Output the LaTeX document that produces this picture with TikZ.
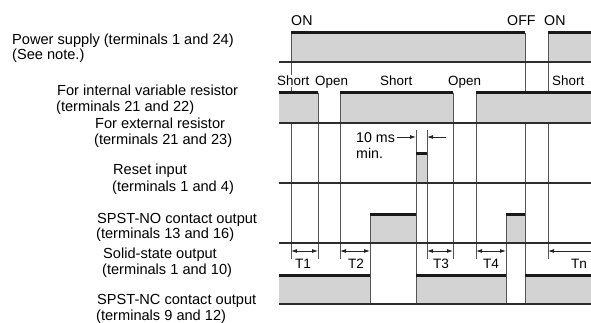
\documentclass[tikz,border=0pt]{standalone}
\usepackage{fontspec}
\setmainfont{Liberation Sans}
\usetikzlibrary{arrows.meta}
\definecolor{wfill}{RGB}{211,211,211}
\definecolor{vlc}{RGB}{85,85,85}
\definecolor{blc}{RGB}{45,45,45}
\begin{document}
\begin{tikzpicture}[x=1pt,y=-1pt,
  lbl/.style={anchor=base west, inner sep=0pt, font=\fontsize{14.6}{16}\selectfont},
  stlbl/.style={anchor=base west, inner sep=1pt, fill=white, font=\fontsize{13.4}{15}\selectfont},
  tlbl/.style={anchor=base, inner sep=0pt, font=\fontsize{13.6}{15}\selectfont},
  wavefill/.style={fill=wfill},
  vln/.style={draw=vlc, line width=0.9pt},
  topline/.style={draw=black!90, line width=3pt},
  baseln/.style={draw=blc, line width=1.4pt},
  dimarrow/.style={draw=black!85, line width=0.8pt, -{Latex[length=6pt,width=4pt]}},
  dimboth/.style={draw=black!85, line width=0.8pt, {Latex[length=6pt,width=4pt]}-{Latex[length=6pt,width=4pt]}},
]
\useasboundingbox (0,0) rectangle (591,323);

% ---- fills ----
\fill[wavefill] (291,33) rectangle (525,62);
\fill[wavefill] (548,33) rectangle (591,62);
\fill[wavefill] (279,93) rectangle (318,123);
\fill[wavefill] (340,93) rectangle (453,123);
\fill[wavefill] (476,93) rectangle (591,123);
\fill[wavefill] (416,154) rectangle (427,183);
\fill[wavefill] (370,214) rectangle (416,243);
\fill[wavefill] (506,214) rectangle (525,243);
\fill[wavefill] (279,275) rectangle (370,304);
\fill[wavefill] (416,275) rectangle (506,304);
\fill[wavefill] (525,275) rectangle (591,304);

% ---- vertical timing lines ----
\draw[vln] (291,33) -- (291,93) (291,123) -- (291,259);
\draw[vln] (318,93) -- (318,259);
\draw[vln] (340,93) -- (340,259);
\draw[vln] (370,214) -- (370,304);
\draw[vln] (416,130) -- (416,304);
\draw[vln] (427,130) -- (427,259);
\draw[vln] (453,93) -- (453,259);
\draw[vln] (476,93) -- (476,259);
\draw[vln] (506,214) -- (506,304);
\draw[vln] (525,33) -- (525,93) (525,123) -- (525,304);
\draw[vln] (548,33) -- (548,93) (548,123) -- (548,259);

% ---- high levels ----
\draw[topline] (291,33) -- (525,33);
\draw[topline] (548,33) -- (591,33);
\draw[topline] (279,93) -- (318,93);
\draw[topline] (340,93) -- (453,93);
\draw[topline] (476,93) -- (591,93);
\draw[topline] (416,154) -- (427,154);
\draw[topline] (370,214) -- (416,214);
\draw[topline] (506,214) -- (525,214);
\draw[topline] (279,275) -- (370,275);
\draw[topline] (416,275) -- (506,275);
\draw[topline] (525,275) -- (591,275);

% ---- baselines ----
\foreach \yy in {62,123,183,243,304}
  \draw[baseln] (279,\yy) -- (591,\yy);

% ---- left labels ----
\node[lbl] (ps1) at (12,45) {Power supply (terminals 1 and 24)};
\node[lbl] (ps2) at (12,60) {(See note.)};
\node[lbl] (ir1) at (57,96) {For internal variable resistor};
\node[lbl] (ir2) at (56,112) {(terminals 21 and 22)};
\node[lbl] (er1) at (95,129) {For external resistor};
\node[lbl] (er2) at (94,145) {(terminals 21 and 23)};
\node[lbl] (rs1) at (113,175) {Reset input};
\node[lbl] (rs2) at (112,191) {(terminals 1 and 4)};
\node[lbl] (no1) at (97,223) {SPST-NO contact output};
\node[lbl] (no2) at (96,238) {(terminals 13 and 16)};
\node[lbl] (ss1) at (103,258) {Solid-state output};
\node[lbl] (ss2) at (102,274) {(terminals 1 and 10)};
\node[lbl] (nc1) at (97,304) {SPST-NC contact output};
\node[lbl] (nc2) at (96,320) {(terminals 9 and 12)};

% ---- top labels ----
\node[lbl, font=\fontsize{14.2}{16}\selectfont] (on1) at (291,26) {ON};
\node[lbl, font=\fontsize{14.2}{16}\selectfont] (off) at (507,26) {OFF};
\node[lbl, font=\fontsize{14.2}{16}\selectfont] (on2) at (544,26) {ON};
\node[stlbl] (s1) at (276,86) {Short};
\node[stlbl] (o1) at (314,86) {Open};
\node[stlbl] (s2) at (379,86) {Short};
\node[stlbl] (o2) at (447,86) {Open};
\node[stlbl] (s3) at (551,86) {Short};

% ---- 10 ms min ----
\node[lbl, font=\fontsize{14.2}{16}\selectfont] (tenms) at (356,143) {10 ms};
\node[lbl, font=\fontsize{14.2}{16}\selectfont] (minl) at (356,159) {min.};
\coordinate (ma) at (397,137);
\coordinate (mb) at (416,137);
\coordinate (mc) at (446,137);
\coordinate (md) at (427,137);
\draw[dimarrow] (ma) -- (mb);
\draw[dimarrow] (mc) -- (md);

% ---- T intervals ----
\coordinate (t1a) at (291,251); \coordinate (t1b) at (318,251);
\coordinate (t2a) at (340,251); \coordinate (t2b) at (370,251);
\coordinate (t3a) at (427,251); \coordinate (t3b) at (453,251);
\coordinate (t4a) at (476,251); \coordinate (t4b) at (506,251);
\coordinate (tna) at (591,251); \coordinate (tnb) at (548,251);
\draw[dimboth] (t1a) -- (t1b);
\draw[dimboth] (t2a) -- (t2b);
\draw[dimboth] (t3a) -- (t3b);
\draw[dimboth] (t4a) -- (t4b);
\draw[dimarrow] (tna) -- (tnb);
\node[tlbl] (T1) at (303,268) {T1};
\node[tlbl] (T2) at (356,268) {T2};
\node[tlbl] (T3) at (441,268) {T3};
\node[tlbl] (T4) at (491,268) {T4};
\node[tlbl] (Tn) at (579,268) {Tn};
\end{tikzpicture}
\end{document}
